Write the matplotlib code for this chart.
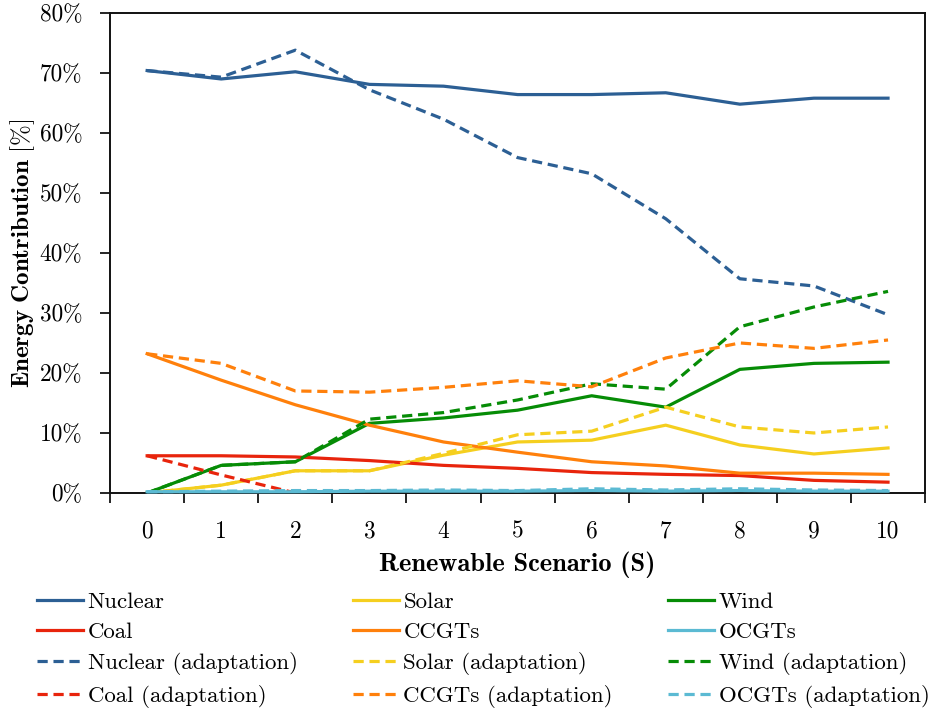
import matplotlib
matplotlib.use("Agg")
import matplotlib.pyplot as plt

plt.rcParams['font.family'] = 'cmr10'
plt.rcParams['mathtext.fontset'] = 'cm'
plt.rcParams['axes.unicode_minus'] = False

# renewable scenarios 0..10, energy share in %
scenarios = list(range(11))
nuclear = [70.4, 69.0, 70.2, 68.1, 67.8, 66.4, 66.4, 66.7, 64.8, 65.8, 65.8]
solar = [0.0, 1.3, 3.7, 3.7, 6.3, 8.5, 8.8, 11.3, 8.0, 6.5, 7.5]
wind = [0.0, 4.6, 5.2, 11.6, 12.5, 13.8, 16.2, 14.3, 20.6, 21.6, 21.8]
coal = [6.2, 6.2, 6.0, 5.4, 4.6, 4.1, 3.4, 3.1, 2.9, 2.1, 1.8]
ccgt = [23.2, 18.8, 14.7, 11.3, 8.5, 6.8, 5.2, 4.5, 3.3, 3.3, 3.1]
ocgt = [0.2, 0.2, 0.2, 0.3, 0.3, 0.3, 0.4, 0.3, 0.4, 0.3, 0.3]

# with adaptation
nuclear_a = [70.4, 69.3, 73.8, 67.2, 62.3, 55.9, 53.2, 45.7, 35.7, 34.5, 29.7]
solar_a = [0.0, 1.3, 3.7, 3.7, 6.6, 9.7, 10.3, 14.3, 11.0, 10.0, 11.0]
wind_a = [0.0, 4.6, 5.2, 12.3, 13.4, 15.5, 18.2, 17.3, 27.7, 31.0, 33.6]
coal_a = [6.2, 3.0, 0.0, 0.0, 0.0, 0.0, 0.0, 0.0, 0.0, 0.0, 0.0]
ccgt_a = [23.2, 21.6, 17.0, 16.8, 17.6, 18.7, 17.7, 22.5, 25.0, 24.1, 25.5]
ocgt_a = [0.2, 0.3, 0.4, 0.4, 0.5, 0.4, 0.7, 0.5, 0.7, 0.5, 0.4]

yticks = [0, 10, 20, 30, 40, 50, 60, 70, 80]
ytick_labels = ['0%', '10%', '20%', '30%', '40%', '50%', '60%', '70%', '80%']

colors = {'Nuclear': '#2C5F94', 'Solar': '#F5CF1F', 'Wind': '#068C06',
          'Coal': '#E8240C', 'CCGTs': '#FF800B', 'OCGTs': '#5BBAD3'}

base = [('Nuclear', nuclear), ('Solar', solar), ('Wind', wind),
        ('Coal', coal), ('CCGTs', ccgt), ('OCGTs', ocgt)]
adapt = [('Nuclear', nuclear_a), ('Solar', solar_a), ('Wind', wind_a),
         ('Coal', coal_a), ('CCGTs', ccgt_a), ('OCGTs', ocgt_a)]

fig = plt.figure(figsize=(9.33, 7.09), dpi=100)
ax = fig.add_axes([0.118, 0.3047, 0.8735, 0.677])

lw = 2.3
dash = (0, (3.2, 1.8))
handles = {}
for name, vals in base:
    # OCGTs sit on top of the axis line, the rest below it
    if name == 'OCGTs':
        l, = ax.plot(scenarios, vals, color=colors[name], lw=lw, zorder=4, clip_on=False)
    else:
        l, = ax.plot(scenarios, vals, color=colors[name], lw=lw, zorder=2)
    handles[name] = l
for name, vals in adapt:
    if name == 'OCGTs':
        l, = ax.plot(scenarios, vals, color=colors[name], lw=lw, linestyle=dash,
                     zorder=4, clip_on=False)
    else:
        l, = ax.plot(scenarios, vals, color=colors[name], lw=lw, linestyle=dash, zorder=2)
    handles[name + ' (adaptation)'] = l

ax.set_xlim(-0.5, 10.5)
ax.set_ylim(0, 80)
ax.set_yticks(yticks)
ax.set_yticklabels(ytick_labels, fontsize=16.8)
ax.set_xticks([i - 0.5 for i in range(12)])
ax.set_xticklabels([])
ax.set_xticks(scenarios, minor=True)
ax.set_xticklabels([str(s) for s in scenarios], minor=True, fontsize=16.8)
ax.tick_params(axis='x', which='major', direction='out', length=7, width=1.2)
ax.tick_params(axis='x', which='minor', length=0, pad=20)
ax.tick_params(axis='y', direction='out', length=7, width=1.2, pad=13)
for s in ax.spines.values():
    s.set_linewidth(1.4)
    s.set_color('#111111')

ax.set_xlabel('Renewable Scenario (S)', fontfamily='cmb10', fontsize=19, labelpad=6)
ax.set_ylabel(r'$\mathbf{Energy\ Contribution}\ [\%]$', fontsize=18, labelpad=2)

order = ['Nuclear', 'Coal', 'Nuclear (adaptation)', 'Coal (adaptation)',
         'Solar', 'CCGTs', 'Solar (adaptation)', 'CCGTs (adaptation)',
         'Wind', 'OCGTs', 'Wind (adaptation)', 'OCGTs (adaptation)']
fig.legend([handles[k] for k in order], order, ncol=3, loc='upper left',
           bbox_to_anchor=(0.03, 0.178), bbox_transform=fig.transFigure,
           frameon=False, fontsize=16.5, handlelength=2.0, handletextpad=0.2,
           columnspacing=2.42, labelspacing=0.43, borderaxespad=0)

fig.savefig('out.png', dpi=100)
